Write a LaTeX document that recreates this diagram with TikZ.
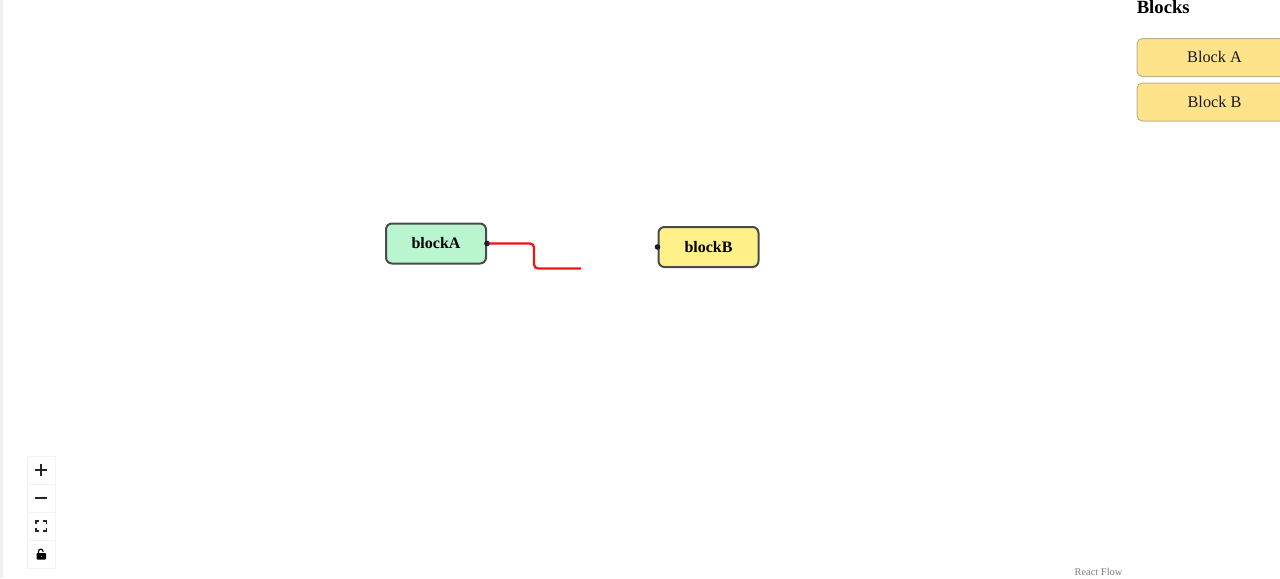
\documentclass[tikz,border=0pt]{standalone}
\usepackage{fontspec}
\setmainfont{Liberation Serif}
\definecolor{greenfill}{HTML}{B9F6D0}
\definecolor{yellowfill}{HTML}{FFF08A}
\definecolor{nodeline}{HTML}{4A4A4A}
\definecolor{btnfill}{HTML}{FFE38A}
\definecolor{btnline}{HTML}{BDB28F}
\definecolor{edgered}{HTML}{F01414}
\definecolor{handlecol}{HTML}{1A192B}
\definecolor{ctrlline}{HTML}{F3F3F3}
\definecolor{striplight}{HTML}{F0F0F0}
\tikzset{
  x=0.75pt,y=-0.75pt,
  flownode/.style={draw=nodeline,line width=1.5pt,rounded corners=4.5pt,minimum width=75pt,minimum height=30pt,inner sep=0pt,font=\bfseries\fontsize{12}{14}\selectfont,text=black},
  handledot/.style={circle,fill=handlecol,inner sep=0pt,minimum size=4.2pt},
  paletteblock/.style={draw=btnline,fill=btnfill,line width=0.75pt,rounded corners=4pt,minimum width=120pt,minimum height=28.5pt,inner sep=0pt},
  palettetext/.style={font=\fontsize{12.2}{15}\selectfont,text=black!90},
  ctrlbtn/.style={draw=ctrlline,fill=white,line width=0.75pt,minimum width=21pt,minimum height=21pt,inner sep=0pt},
  edgeline/.style={draw=edgered,line width=1.7pt,rounded corners=3pt}
}
\begin{document}
\begin{tikzpicture}
\useasboundingbox (0,0) rectangle (1280,578);
\clip (0,0) rectangle (1280,578);
\fill[striplight] (0,0) rectangle (3,578);
% flow nodes
\node[flownode,fill=greenfill] (blockA) at (436,243.5) {blockA};
\node[flownode,fill=yellowfill] (blockB) at (708.5,247) {blockB};
\node[handledot] (handleA) at (487,243.5) {};
\node[handledot] (handleB) at (657.5,247) {};
\coordinate (edgeEnd) at (581,268.5);
\draw[edgeline] (handleA.center) -| (534,256) |- (edgeEnd);
\fill[handlecol,opacity=0.75] (handleA) circle[radius=2.6];
% palette
\node[anchor=base west,inner sep=0pt,font=\bfseries\fontsize{14}{16}\selectfont] (title) at (1136.5,13) {Blocks};
\node[paletteblock,anchor=west] (paletteA) at (1136.5,57.5) {};
\node[paletteblock,anchor=west] (paletteB) at (1136.5,102) {};
\node[palettetext] (labelA) at (1214.5,57) {Block A};
\node[palettetext] (labelB) at (1214.5,101.5) {Block B};
% controls
\node[ctrlbtn] (zoomin) at (41,470) {};
\node[ctrlbtn] (zoomout) at (41,498) {};
\node[ctrlbtn] (fitview) at (41,526) {};
\node[ctrlbtn] (lockbtn) at (41,554) {};
\draw[line width=1.4pt,black!85] (35,470) -- (47,470) (41,464) -- (41,476);
\draw[line width=1.4pt,black!85] (35,498) -- (47,498);
\draw[line width=1.1pt,black!85] (36,524) -- (36,521) -- (39,521)
  (43,521) -- (46.5,521) -- (46.5,524)
  (46.5,528) -- (46.5,531) -- (43,531)
  (39,531) -- (36,531) -- (36,528);
\fill[black,rounded corners=0.6pt,even odd rule] (36.5,553) rectangle (46,559.5) (40.6,555.6) rectangle (42.1,557.2);
\draw[line width=0.9pt] (38.5,553) -- (38.5,551.5) arc[start angle=180,end angle=0,x radius=2.3,y radius=-2.3] -- (43.1,552);
% attribution
\node[anchor=base,text=gray,font=\fontsize{7.8}{9}\selectfont] (attrib) at (1098.5,575.5) {React Flow};
\end{tikzpicture}
\end{document}
